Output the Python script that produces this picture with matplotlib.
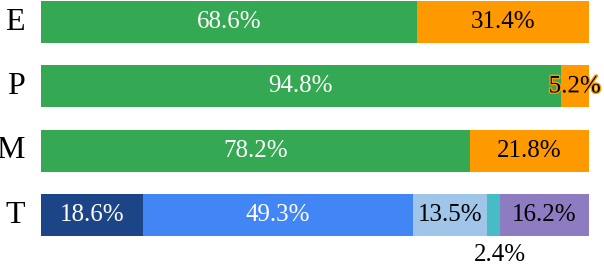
import matplotlib
matplotlib.use("Agg")
import matplotlib.pyplot as plt
import matplotlib.patheffects as pe

categories = ["E", "P", "M", "T"]
# two-part rows
green_vals = [68.6, 94.8, 78.2]
orange_vals = [31.4, 5.2, 21.8]
# T row segments
t_vals = [18.6, 49.3, 13.5, 2.4, 16.2]
t_colors = ["#1c4587", "#4285f4", "#9fc5e8", "#46bdc6", "#8e7cc3"]
t_text = ["white", "white", "black", None, "black"]

GREEN = "#34a853"
ORANGE = "#ff9900"

plt.rcParams["font.family"] = ["Liberation Serif", "DejaVu Serif"]

fig = plt.figure(figsize=(6.04, 2.64), dpi=100)
ax = fig.add_axes([41/604, 0, 548/604, 1])
ax.set_xlim(0, 100)
ax.set_ylim(3.758, -0.342)
ax.axis("off")

h = 0.652
fs = 18
for i in range(3):
    ax.barh(i, green_vals[i], height=h, color=GREEN, left=0)
    ax.barh(i, orange_vals[i], height=h, color=ORANGE, left=green_vals[i])
    ax.text(green_vals[i] / 2, i, f"{green_vals[i]}%", ha="center", va="center",
            color="white", fontsize=fs)
    t = ax.text(green_vals[i] + orange_vals[i] / 2, i, f"{orange_vals[i]}%",
                ha="center", va="center", color="black", fontsize=fs)
    if orange_vals[i] < 10:
        t.set_path_effects([pe.withStroke(linewidth=2, foreground=ORANGE)])

left = 0
for v, c, tc in zip(t_vals, t_colors, t_text):
    ax.barh(3, v, height=h, color=c, left=left)
    if tc is not None:
        ax.text(left + v / 2, 3, f"{v}%", ha="center", va="center", color=tc, fontsize=fs)
    else:
        ax.text(left + v / 2 + 1.2, 3.62, f"{v}%", ha="center", va="center",
                color="black", fontsize=fs)
    left += v

for i, c in enumerate(categories):
    ax.text(-2.9, i, c, ha="right", va="center", fontsize=23, color="black")

fig.savefig("out.png", dpi=100)
